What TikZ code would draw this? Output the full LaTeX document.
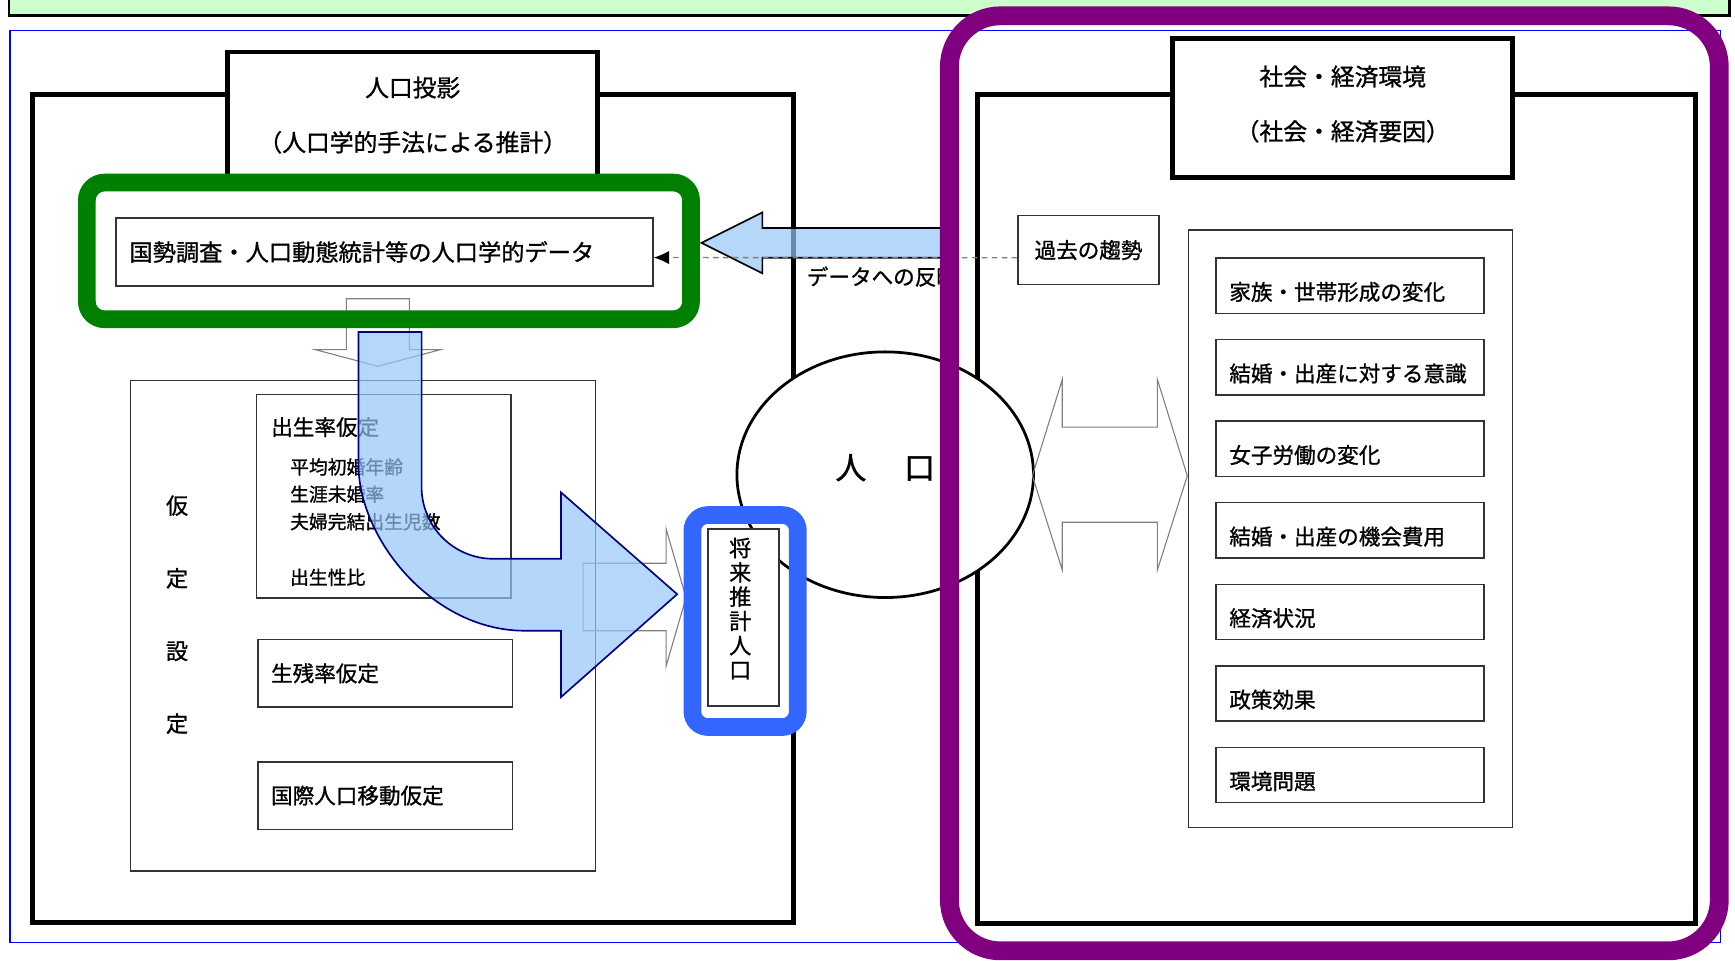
\documentclass[tikz,border=0pt]{standalone}
\usepackage{fontspec}
\setmainfont{Noto Sans CJK JP}[FakeBold=1]
\usetikzlibrary{arrows.meta}
\usetikzlibrary{positioning}
\usetikzlibrary{shapes.geometric}
\definecolor{barGreen}{HTML}{CCFFCC}
\definecolor{hlGreen}{HTML}{008000}
\definecolor{hlBlue}{HTML}{3366FF}
\definecolor{hlPurple}{HTML}{800080}
\definecolor{arrowBlue}{RGB}{148,198,248}
\definecolor{arrowNavy}{HTML}{000080}
\newcommand{\jsize}[2]{\fontsize{#1}{#2}\selectfont}
\tikzstyle{thinbox} = [draw=black!80, line width=1.3pt, fill=white, inner sep=0pt]
\tikzstyle{frame} = [draw=black, line width=4.5pt]
\tikzstyle{titlebox} = [frame, fill=white, align=center, inner sep=0pt, text depth=9pt, font=\jsize{21.5}{49.5}]
\tikzstyle{label} = [anchor=west, inner sep=0pt, font=\jsize{19.5}{20}]
\tikzstyle{subtxt} = [anchor=west, inner sep=0pt, font=\jsize{17}{18}]
\tikzstyle{leftbox} = [thinbox, text width=206pt, inner xsep=12pt, align=left, minimum height=61pt, font=\jsize{19.5}{20}]
\tikzstyle{factor} = [thinbox, text width=218pt, inner xsep=12pt, align=left, minimum height=50pt, text height=26pt, text depth=0pt, font=\jsize{19.5}{20}]
\tikzstyle{hollow} = [draw=gray, line width=1pt]
\tikzstyle{block} = [fill=arrowBlue, fill opacity=0.7, line width=1.5pt]
\tikzstyle{feedback} = [draw=gray, line width=1.2pt, dash pattern=on 5pt off 4pt, -{Latex[length=14pt,width=12pt,fill=black,color=black]}]

\begin{document}
\begin{tikzpicture}[x=1pt,y=-1pt]
\clip (0,0) rectangle (1568,868);
\draw[fill=barGreen, line width=2pt] (8,-10) rectangle (1563,14);
\draw[blue, line width=1.2pt] (9,27.5) rectangle (1555,851.5);

\node[frame, minimum width=688pt, minimum height=749pt] (popbox) at (373,459.5) {};
\node[frame, minimum width=649pt, minimum height=750pt] (envbox) at (1207.5,460) {};
\node[titlebox, minimum width=334pt, minimum height=121pt] (poptitle) at (373,107.5) {人口投影\\（人口学的手法による推計）};
\node[titlebox, minimum width=307pt, minimum height=125pt] (envtitle) at (1213.5,97.5) {社会・経済環境\\（社会・経済要因）};

\node[thinbox, minimum width=485pt, minimum height=61.5pt, text width=461pt, inner xsep=12pt, align=left, font=\jsize{21}{25}] (data) at (347.5,227.75) {国勢調査・人口動態統計等の人口学的データ};
\draw[hollow] (313,270) -- (370,270) -- (370,316) -- (398,316) -- (341.5,331) -- (285,316) -- (313,316) -- cycle;

\node[thinbox, minimum width=420pt, minimum height=443pt] (assume) at (328,565.5) {};
\node[inner sep=0pt, align=center, font=\jsize{20}{65.7}] (assumetxt) at (160,555.5) {仮\\定\\設\\定};
\node[thinbox, minimum width=230pt, minimum height=184pt] (birth) at (347,448.5) {};
\node[label] (birthtxt) at (245,386) {出生率仮定};
\node[subtxt] (b1) at (262,422) {平均初婚年齢};
\node[subtxt] (b2) at (262,446.6) {生涯未婚率};
\node[subtxt] (b3) at (262,471.5) {夫婦完結出生児数};
\node[subtxt] (b4) at (262,521.7) {出生性比};
\node[leftbox] (surv) at (348,608.5) {生残率仮定};
\node[leftbox] (migr) at (348,719) {国際人口移動仮定};
\draw[hollow] (527,509) -- (602,509) -- (602,478) -- (620,540) -- (602,602) -- (602,570) -- (527,570) -- cycle;

\node[draw, ellipse, line width=2.5pt, fill=white, minimum width=268pt, minimum height=222pt, inner sep=0pt, text height=8pt, text depth=0pt, font=\jsize{28}{30}] (pop) at (800,429) {人\hspace{34pt}口};
\node[thinbox, minimum width=64pt, minimum height=160pt] (fut) at (672,558) {};
\node[inner sep=0pt, align=center, font=\jsize{20}{22}] (futtxt) at (669,550) {将\\来\\推\\計\\人\\口};

\node[thinbox, minimum width=127.5pt, minimum height=62pt, font=\jsize{19.5}{20}] (trend) at (983.75,226) {過去の趨勢};
\node[thinbox, minimum width=293pt, minimum height=540pt] (factors) at (1220.5,478) {};
\foreach \txt [count=\i] in {家族・世帯形成の変化, 結婚・出産に対する意識, 女子労働の変化, 結婚・出産の機会費用, 経済状況, 政策効果, 環境問題}
  \node[factor] (f\i) at (1220,{258.2+73.7*(\i-1)}) {\txt};
\draw[hollow] (933,430) -- (960,343) -- (960,386) -- (1046,386) -- (1046,343) -- (1073,430) -- (1046,515) -- (1046,472) -- (960,472) -- (960,515) -- cycle;

\draw[block, draw=black] (852,206) -- (689,206) -- (689,192) -- (634,219.5) -- (689,247) -- (689,233) -- (852,233) -- cycle;
\draw[feedback] ([yshift=-7pt]trend.west) -- ([yshift=-5pt]data.east);
\node[label] (feedtxt) at (729,250) {データへの反映};

\draw[block, draw=arrowNavy] (324,300) -- (381,300) -- (381,440) .. controls (381,476) and (410,505) .. (446,505) -- (507,505) -- (507,445) -- (612,537) -- (507,630) -- (507,570) -- (474,570) .. controls (391,570) and (324,487) .. (324,420) -- cycle;

\draw[hlGreen, line width=16pt, rounded corners=16pt] (78.5,165) rectangle (624.5,288.5);
\draw[hlBlue, line width=16pt, rounded corners=14pt] (625.75,465.5) rectangle (721,657);
\draw[hlPurple, line width=17pt, rounded corners=46pt] (858,14.3) rectangle (1553.8,859.3);
\end{tikzpicture}
\end{document}
